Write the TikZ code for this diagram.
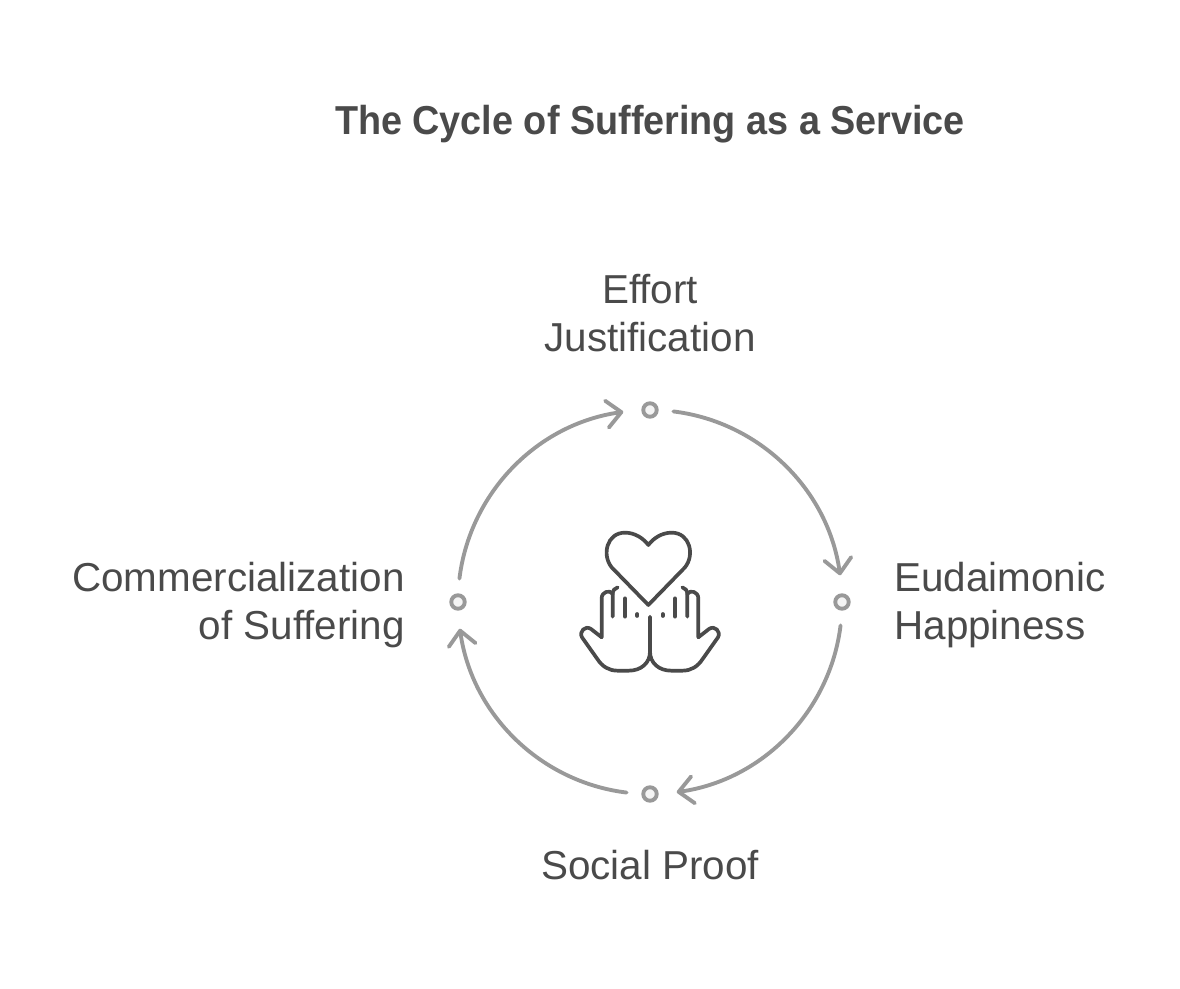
\documentclass[tikz,border=0pt]{standalone}
\usepackage{fontspec}
\setmainfont{Liberation Sans}
\newfontfamily\titlefont[FakeStretch=0.935]{Liberation Sans}
\usetikzlibrary{arrows.meta,calc}
\definecolor{labelgray}{HTML}{4A4A4A}
\definecolor{ringgray}{HTML}{999999}
\definecolor{dotfill}{HTML}{F4F4F4}
\tikzset{
  titletext/.style={text=labelgray,font=\fontsize{23}{27}\titlefont\bfseries,inner sep=0pt},
  labeltext/.style={text=labelgray,font=\fontsize{23}{27.2}\selectfont,inner sep=0pt},
  ringdot/.style={circle,draw=ringgray,fill=dotfill,line width=2.2pt,minimum size=0.27cm,inner sep=0pt},
  ringarrow/.style={ringgray,line width=2.2pt,line cap=round,looseness=0.95,-{Straight Barb[length=0.29cm,width=0.54cm,round,line width=2.2pt]}},
  iconline/.style={labelgray,line width=2.1pt,line cap=round,line join=round}
}
\begin{document}
\begin{tikzpicture}[x=0.02cm,y=0.02cm]
\useasboundingbox (0,0) rectangle (1180,988);
% Title
\node[titletext] (title) at (650,864) {The Cycle of Suffering as a Service};

% Dots on the ring
\coordinate (ringcentre) at (650,386);
\node[ringdot] (effortdot) at (650,578) {};
\node[ringdot] (eudaimonicdot) at (842,386) {};
\node[ringdot] (socialdot) at (650,194) {};
\node[ringdot] (commercedot) at (458,386) {};

% Labels
\node[labeltext,align=center,anchor=south] (effort) at (650,636) {Effort\\Justification};
\node[labeltext,align=left,anchor=west] (eudaimonic) at (894,383) {Eudaimonic\\Happiness};
\node[labeltext] (social) at (650,123) {Social Proof};
\node[labeltext,align=right,anchor=east] (commerce) at (405,383) {Commercialization\\of Suffering};

% Where the arrows leave and reach the ring
\coordinate (effortout) at ($(ringcentre)+(83:192)$);
\coordinate (eudaimonicin) at ($(ringcentre)+(8:192)$);
\coordinate (eudaimonicout) at ($(ringcentre)+(-7:192)$);
\coordinate (socialin) at ($(ringcentre)+(-82:192)$);
\coordinate (socialout) at ($(ringcentre)+(-97:192)$);
\coordinate (commercein) at ($(ringcentre)+(-172:192)$);
\coordinate (commerceout) at ($(ringcentre)+(173:192)$);
\coordinate (effortin) at ($(ringcentre)+(98:192)$);

% Ring
\draw[ringarrow] (effortout) to[out=-7,in=98] (eudaimonicin);
\draw[ringarrow] (eudaimonicout) to[out=-97,in=8] (socialin);
\draw[ringarrow] (socialout) to[out=173,in=-82] (commercein);
\draw[ringarrow] (commerceout) to[out=83,in=-172] (effortin);

% Heart and hands, coordinates follow the icon from its top left corner
\begin{scope}[shift={(560,478)},x=0.00667cm,y=-0.00667cm]
\draw[iconline] (265,285) -- (155,172) .. controls (125,135) and (140,68) .. (195,68)
  .. controls (225,68) and (250,85) .. (265,105) .. controls (280,85) and (305,68) .. (335,68)
  .. controls (390,68) and (405,135) .. (375,172) -- cycle;
% left hand
\draw[iconline] (270,320) -- (270,425) .. controls (270,460) and (242,482) .. (207,482) -- (172,482)
  .. controls (147,482) and (127,470) .. (112,447) -- (66,382) .. controls (56,365) and (76,345) .. (93,357)
  -- (125,382) -- (125,265) .. controls (125,245) and (150,238) .. (158,252) -- (158,320);
\draw[iconline] (158,252) .. controls (158,242) and (164,234) .. (173,232);
\draw[iconline] (195,265) -- (195,320);
\draw[iconline] (232,312) -- (232,318);
% right hand
\draw[iconline] (270,425) .. controls (270,460) and (298,482) .. (333,482) -- (368,482)
  .. controls (393,482) and (413,470) .. (428,447) -- (474,382) .. controls (484,365) and (464,345) .. (447,357)
  -- (415,382) -- (415,265) .. controls (415,245) and (390,238) .. (382,252) -- (382,320);
\draw[iconline] (382,252) .. controls (382,242) and (376,234) .. (367,232);
\draw[iconline] (345,265) -- (345,320);
\draw[iconline] (308,312) -- (308,318);
\end{scope}
\end{tikzpicture}
\end{document}
